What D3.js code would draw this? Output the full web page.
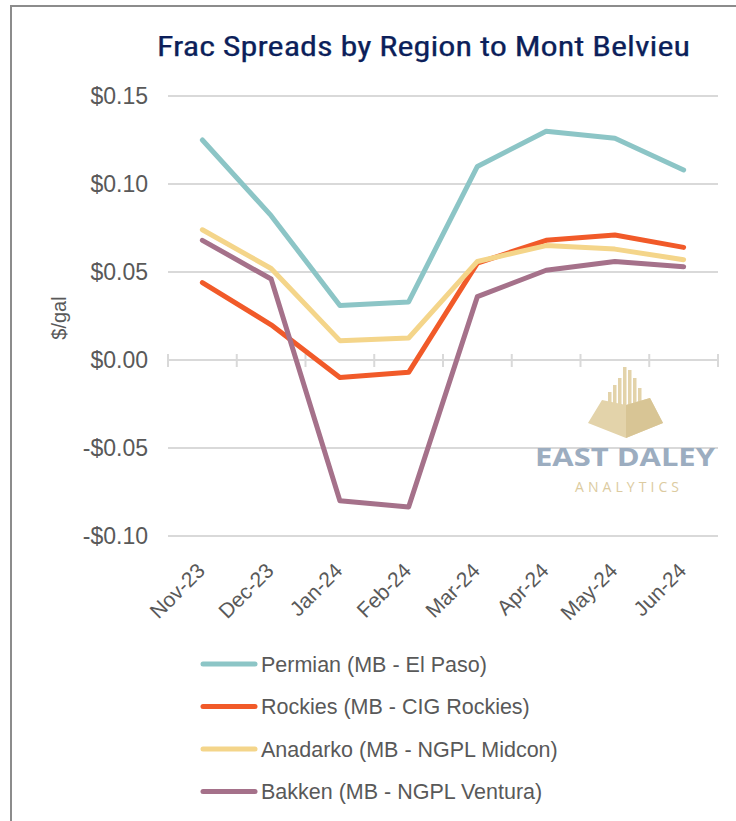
<!DOCTYPE html>
<html>
<head>
  <meta charset="utf-8">
  <title>Frac Spreads by Region to Mont Belvieu</title>
  <style type="text/css">
    body {
      margin: 0;
      background-color: #fff;
    }
    svg {
      display: block;
      font-family: "Liberation Sans", Arial, sans-serif;
    }
    .axis text {
      fill: #595959;
    }
  </style>
  <script src="https://d3js.org/d3.v7.min.js"></script>
</head>
<body>
<script>
// data
var months = ["Nov-23", "Dec-23", "Jan-24", "Feb-24", "Mar-24", "Apr-24", "May-24", "Jun-24"];
var seriesNames = ["Permian (MB - El Paso)", "Rockies (MB - CIG Rockies)",
                   "Anadarko (MB - NGPL Midcon)", "Bakken (MB - NGPL Ventura)"];
var permian  = [0.125, 0.082, 0.031, 0.033, 0.110, 0.130, 0.126, 0.108];
var rockies  = [0.044, 0.020, -0.010, -0.007, 0.055, 0.068, 0.071, 0.064];
var anadarko = [0.074, 0.052, 0.011, 0.0125, 0.056, 0.065, 0.063, 0.057];
var bakken   = [0.068, 0.046, -0.080, -0.0835, 0.036, 0.051, 0.056, 0.053];
var yTicks = [0.15, 0.10, 0.05, 0.00, -0.05, -0.10];
var colors = ["#8cc5c6", "#f15a29", "#f4d58a", "#a5718a"];

var series = [permian, rockies, anadarko, bakken];

var W = 736, H = 821;
var margin = {top: 96, right: 18, bottom: 285, left: 168};
var width = W - margin.left - margin.right;
var height = H - margin.top - margin.bottom;

var svg = d3.select("body").append("svg")
    .attr("width", W)
    .attr("height", H);

// frame
svg.append("rect")
    .attr("x", 11).attr("y", 6)
    .attr("width", W + 20).attr("height", H + 20)
    .attr("fill", "none")
    .attr("stroke", "#8c8c8c")
    .attr("stroke-width", 2);

svg.append("text")
    .attr("x", 157).attr("y", 56)
    .attr("textLength", 533)
    .attr("lengthAdjust", "spacingAndGlyphs")
    .style("font-family", "'Liberation Sans Narrow', 'Roboto Condensed', sans-serif")
    .style("font-size", "28px")
    .style("fill", "#0c1f5a")
    .style("stroke", "#0c1f5a")
    .style("stroke-width", "0.25px")
    .text("Frac Spreads by Region to Mont Belvieu");

var chart = svg.append("g")
    .attr("transform", "translate(" + margin.left + "," + margin.top + ")");

var xscale = d3.scaleBand()
    .domain(months)
    .range([0, width]);

var yscale = d3.scaleLinear()
    .domain([-0.10, 0.15])
    .range([height, 0]);

// gridlines
chart.append("g")
    .selectAll("line")
    .data(yTicks.filter(function(d) { return d !== 0; }))
    .enter().append("line")
      .attr("x1", 0).attr("x2", width)
      .attr("y1", function(d) { return yscale(d); })
      .attr("y2", function(d) { return yscale(d); })
      .attr("stroke", "#d9d9d9")
      .attr("stroke-width", 2);

// zero axis with tick marks
var zero = chart.append("g")
    .attr("transform", "translate(0," + yscale(0) + ")");
zero.append("line")
    .attr("x1", 0).attr("x2", width)
    .attr("stroke", "#d9d9d9").attr("stroke-width", 2);
zero.selectAll("line.tick")
    .data(months.concat(["end"]))
    .enter().append("line")
      .attr("class", "tick")
      .attr("x1", function(d, i) { return i * xscale.step(); })
      .attr("x2", function(d, i) { return i * xscale.step(); })
      .attr("y1", -6).attr("y2", 7)
      .attr("stroke", "#d9d9d9").attr("stroke-width", 2);

// y axis labels
var yaxis = d3.axisLeft(yscale)
    .tickValues(yTicks)
    .tickSize(0)
    .tickPadding(20)
    .tickFormat(function(d) { return (d < 0 ? "-$" : "$") + Math.abs(d).toFixed(2); });

chart.append("g")
    .attr("class", "axis")
    .call(yaxis)
    .call(function(g) { g.select(".domain").remove(); })
    .selectAll("text")
      .style("font-family", "'Liberation Sans', Arial, sans-serif")
      .style("font-size", "23px");

svg.append("text")
    .attr("transform", "translate(66,318) rotate(-90)")
    .attr("text-anchor", "middle")
    .style("font-size", "20px")
    .style("fill", "#595959")
    .text("$/gal");

// x labels, rotated
chart.append("g")
    .attr("class", "axis")
    .selectAll("text")
    .data(months)
    .enter().append("text")
      .attr("transform", function(d) {
        return "translate(" + (xscale(d) + xscale.bandwidth() / 2 + 4) + "," + (height + 36) + ") rotate(-45)";
      })
      .attr("text-anchor", "end")
      .style("font-size", "21px")
      .text(function(d) { return d; });

// lines
var line = d3.line()
    .x(function(d, i) { return xscale(months[i]) + xscale.bandwidth() / 2; })
    .y(function(d) { return yscale(d); });

chart.selectAll("path.series")
    .data(series)
    .enter().append("path")
      .attr("class", "series")
      .attr("d", line)
      .attr("fill", "none")
      .attr("stroke", function(d, i) { return colors[i]; })
      .attr("stroke-width", 5)
      .attr("stroke-linejoin", "round")
      .attr("stroke-linecap", "round");

// watermark logo
var logo = svg.append("g").attr("transform", "translate(626,0)");
var tan = "#e3d3aa";
[[-16, 392], [-11, 385], [-6, 378], [-1, 367], [4, 370], [9, 378], [14, 388]].forEach(function(b) {
  logo.append("rect")
      .attr("x", b[0] - 2).attr("y", b[1])
      .attr("width", 3.5).attr("height", 406 - b[1])
      .attr("fill", tan);
});
logo.append("path")
    .attr("d", "M-38,423 L-24,400 L0,405 L24,398 L37,423 L0,438 Z")
    .attr("fill", tan);
logo.append("path")
    .attr("d", "M0,405 L24,398 L37,423 L0,438 Z")
    .attr("fill", "#d8c595");
logo.append("text")
    .attr("x", -91).attr("y", 466)
    .attr("textLength", 180)
    .attr("lengthAdjust", "spacingAndGlyphs")
    .style("font-family", "'Open Sans', sans-serif")
    .style("font-size", "25px")
    .style("font-weight", "700")
    .style("fill", "#9cadc0")
    .text("EAST DALEY");
logo.append("text")
    .attr("x", -51).attr("y", 492)
    .attr("textLength", 104)
    .attr("lengthAdjust", "spacing")
    .style("font-family", "'Open Sans', sans-serif")
    .style("font-size", "14px")
    .style("fill", "#dccba0")
    .text("ANALYTICS");

// legend
var legend = svg.append("g")
    .attr("transform", "translate(201,664)");

var items = legend.selectAll("g")
    .data(seriesNames)
    .enter().append("g")
      .attr("transform", function(d, i) { return "translate(0," + (i * 42.5) + ")"; });

items.append("line")
    .attr("x1", 2).attr("x2", 54)
    .attr("stroke", function(d, i) { return colors[i]; })
    .attr("stroke-width", 5)
    .attr("stroke-linecap", "round");

items.append("text")
    .attr("x", 60)
    .attr("dy", "0.36em")
    .style("font-size", "21.5px")
    .style("fill", "#595959")
    .text(function(d) { return d; });
</script>
</body>
</html>
